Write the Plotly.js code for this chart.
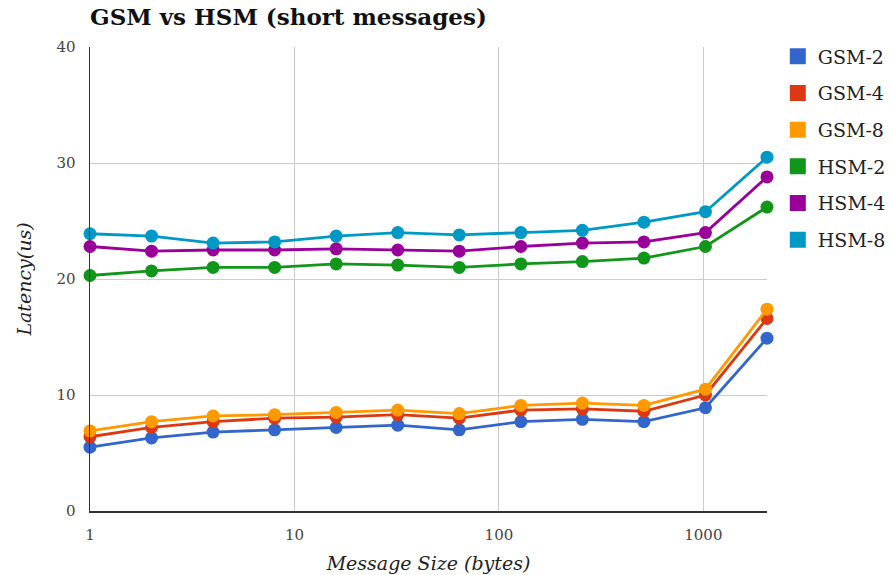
<!DOCTYPE html>
<html><head><meta charset="utf-8">
<script src="https://cdn.plot.ly/plotly-3.0.1.min.js"></script>
<style>html,body{margin:0;padding:0;background:#fff}#chart{width:893px;height:575px}</style>
</head><body><div id="chart"></div>
<script>
const sizes = [1, 2, 4, 8, 16, 32, 64, 128, 256, 512, 1024, 2048];
const seriesNames = ["GSM-2", "GSM-4", "GSM-8", "HSM-2", "HSM-4", "HSM-8"];
const gsm2 = [5.5, 6.3, 6.8, 7.0, 7.2, 7.4, 7.0, 7.7, 7.9, 7.7, 8.9, 14.9];
const gsm4 = [6.4, 7.2, 7.7, 8.0, 8.1, 8.3, 8.0, 8.7, 8.8, 8.6, 10.0, 16.6];
const gsm8 = [6.9, 7.7, 8.2, 8.3, 8.5, 8.7, 8.4, 9.1, 9.3, 9.1, 10.5, 17.4];
const hsm2 = [20.3, 20.7, 21.0, 21.0, 21.3, 21.2, 21.0, 21.3, 21.5, 21.8, 22.8, 26.2];
const hsm4 = [22.8, 22.4, 22.5, 22.5, 22.6, 22.5, 22.4, 22.8, 23.1, 23.2, 24.0, 28.8];
const hsm8 = [23.9, 23.7, 23.1, 23.2, 23.7, 24.0, 23.8, 24.0, 24.2, 24.9, 25.8, 30.5];
const colors = ["#3366cc", "#dc3912", "#ff9900", "#109618", "#990099", "#0099c6"];
const xTickVals = [1, 10, 100, 1000];
const xTickText = ["1", "10", "100", "1000"];
const yTickVals = [0, 10, 20, 30, 40];

const values = [gsm2, gsm4, gsm8, hsm2, hsm4, hsm8];
const serif = "DejaVu Serif, Liberation Serif, serif";
const traces = [];
values.forEach((v, i) => {
  traces.push({
    x: sizes, y: v, type: "scatter", mode: "lines+markers",
    name: seriesNames[i], showlegend: false, cliponaxis: false,
    line: {color: colors[i], width: 2.8},
    marker: {color: colors[i], size: 13}
  });
});
values.forEach((v, i) => {
  traces.push({
    x: [null], y: [null], type: "scatter", mode: "markers",
    name: seriesNames[i], legendgroup: "g" + i, showlegend: true,
    marker: {color: colors[i], size: 16, symbol: "square"}
  });
});

const layout = {
  width: 893, height: 575,
  margin: {l: 90, r: 126, t: 47, b: 64},
  paper_bgcolor: "#fff", plot_bgcolor: "#fff",
  title: {text: "<b>GSM vs HSM (short messages)</b>", x: 0, xref: "paper", xanchor: "left",
          y: 1, yref: "container", yanchor: "top", pad: {t: 9},
          font: {family: serif, size: 23, color: "#111"}},
  xaxis: {
    type: "log", range: [0, Math.log10(2048)],
    tickvals: xTickVals, ticktext: xTickText,
    showgrid: true, gridcolor: "#cccccc", gridwidth: 1,
    showline: true, linecolor: "#333", linewidth: 1.5,
    zeroline: false, ticks: "", ticklen: 0, ticklabelstandoff: 9,
    automargin: false,
    tickfont: {family: serif, size: 15, color: "#444"},
    title: {text: "<i>Message Size (bytes)</i>", font: {family: serif, size: 19, color: "#222"}, standoff: 14}
  },
  yaxis: {
    range: [0, 40], tickvals: yTickVals,
    showgrid: true, gridcolor: "#cccccc", gridwidth: 1,
    showline: true, linecolor: "#333", linewidth: 1.5,
    zeroline: false, ticks: "", ticklabelstandoff: 10,
    automargin: false,
    tickfont: {family: serif, size: 15, color: "#444"},
    title: {text: "<i>Latency(us)</i>", font: {family: serif, size: 19, color: "#222"}, standoff: 20}
  },
  legend: {
    xref: "container", yref: "container",
    x: 0.871, xanchor: "left", y: 0.935, yanchor: "top",
    font: {family: serif, size: 19, color: "#222"},
    tracegroupgap: 9, itemwidth: 30,
    bgcolor: "rgba(0,0,0,0)"
  },
  showlegend: true
};
Plotly.newPlot("chart", traces, layout, {displayModeBar: false, staticPlot: true});
</script></body></html>
